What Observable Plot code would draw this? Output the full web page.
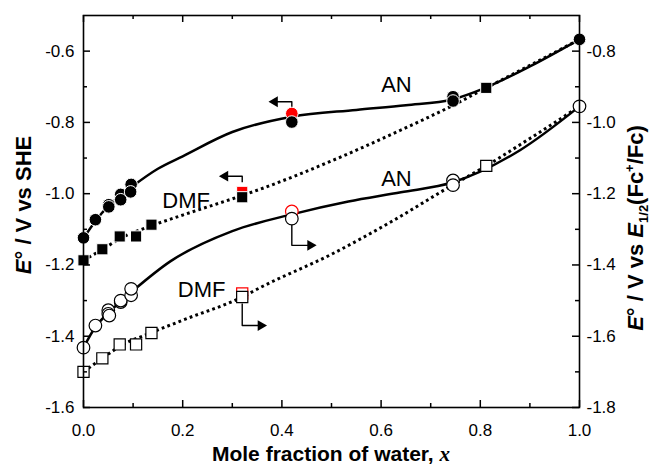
<!DOCTYPE html>
<html><head><meta charset="utf-8">
<script src="https://cdn.jsdelivr.net/npm/d3@7"></script>
<script src="https://cdn.jsdelivr.net/npm/@observablehq/plot@0.6"></script>
<style>body{margin:0;background:#fff}svg{display:block}</style>
</head><body><div id="chart"></div>
<script>
// ---- axis ticks ----
const xMajor = [0, 0.2, 0.4, 0.6, 0.8, 1.0];
const xMinor = [0.1, 0.3, 0.5, 0.7, 0.9];
const leftMajor = [-1.6, -1.4, -1.2, -1.0, -0.8, -0.6];
const leftMinor = [-1.5, -1.3, -1.1, -0.9, -0.7];
const rightMajor = [-1.8, -1.6, -1.4, -1.2, -1.0, -0.8];
const rightMinor = [-1.7, -1.5, -1.3, -1.1, -0.9];

// ---- AN, E° vs SHE (filled circles, left axis) ----
const anSheX = [0, 0.024, 0.051, 0.051, 0.075, 0.075, 0.096, 0.095, 0.42, 0.745, 0.745, 1.0];
const anSheY = [-1.124, -1.073, -1.031, -1.037, -1.002, -1.017, -0.974, -0.995, -0.799, -0.728, -0.740, -0.567];
const anSheRedX = [0.42];
const anSheRedY = [-0.775];
const anSheFitX = [0, 0.025, 0.05, 0.075, 0.1, 0.15, 0.2, 0.3, 0.42, 0.55, 0.65, 0.745, 0.81, 0.9, 1.0];
const anSheFitY = [-1.125, -1.075, -1.035, -1.005, -0.978, -0.93, -0.895, -0.827, -0.784, -0.765, -0.752, -0.735, -0.703, -0.643, -0.567];

// ---- DMF, E° vs SHE (filled squares, left axis) ----
const dmfSheX = [0, 0.038, 0.073, 0.106, 0.137, 0.32, 0.812];
const dmfSheY = [-1.187, -1.156, -1.12, -1.12, -1.087, -1.01, -0.703];
const dmfSheRedX = [0.32];
const dmfSheRedY = [-0.995];
const dmfSheFitX = [0, 0.04, 0.075, 0.137, 0.2, 0.32, 0.357, 0.5, 0.639, 0.745, 0.812, 0.9, 1.0];
const dmfSheFitY = [-1.187, -1.155, -1.125, -1.09, -1.06, -1.005, -0.987, -0.908, -0.822, -0.752, -0.703, -0.64, -0.567];

// ---- AN, E° vs E1/2(Fc+/Fc) (open circles, right axis) ----
const anFcX = [0, 0.024, 0.05, 0.05, 0.052, 0.075, 0.075, 0.096, 0.096, 0.42, 0.745, 0.745, 1.0];
const anFcY = [-1.632, -1.570, -1.527, -1.537, -1.542, -1.504, -1.500, -1.485, -1.467, -1.270, -1.163, -1.176, -0.955];
const anFcRedX = [0.42];
const anFcRedY = [-1.25];
const anFcFitX = [0, 0.025, 0.05, 0.075, 0.1, 0.175, 0.3, 0.42, 0.534, 0.64, 0.745, 0.88, 1.0];
const anFcFitY = [-1.632, -1.572, -1.535, -1.502, -1.472, -1.39, -1.305, -1.258, -1.222, -1.196, -1.168, -1.078, -0.955];

// ---- DMF, E° vs E1/2(Fc+/Fc) (open squares, right axis) ----
const dmfFcX = [0, 0.038, 0.073, 0.106, 0.137, 0.32, 0.812];
const dmfFcY = [-1.70, -1.662, -1.623, -1.623, -1.591, -1.49, -1.122];
const dmfFcRedX = [0.32];
const dmfFcRedY = [-1.48];
const dmfFcFitX = [0, 0.04, 0.075, 0.137, 0.2, 0.32, 0.357, 0.5, 0.625, 0.745, 0.812, 0.9, 1.0];
const dmfFcFitY = [-1.70, -1.66, -1.627, -1.59, -1.555, -1.49, -1.463, -1.37, -1.275, -1.175, -1.122, -1.045, -0.955];

// ---- series labels ----
const labelText = ["AN", "AN", "DMF", "DMF"];
const labelX = [0.631, 0.631, 0.159, 0.19];
const labelY = [-0.695, -0.958, -1.02, -1.271];
const labelAnchor = ["middle", "middle", "start", "start"];

// ---- axis-pointer arrows (elbow paths, data units) ----
// filled markers -> left axis; open markers -> right axis
const arrowSheCircleX = [0.42, 0.42, 0.39];  const arrowSheCircleY = [-0.762, -0.742, -0.742];
const arrowSheSquareX = [0.32, 0.32, 0.29];  const arrowSheSquareY = [-0.968, -0.951, -0.951];
const arrowFcCircleX = [0.42, 0.42, 0.453];  const arrowFcCircleY = [-1.286, -1.345, -1.345];
const arrowFcSquareX = [0.32, 0.32, 0.353];  const arrowFcSquareY = [-1.508, -1.570, -1.570];
const headSheX = [0.3855, 0.2855]; const headSheY = [-0.742, -0.951];
const headFcX = [0.4575, 0.3575];  const headFcY = [-1.345, -1.570];

// ---- build ----
const off = leftMajor[0] - rightMajor[0]; // right axis = left axis - 0.2
const toLeft = v => v + off;
const pts = (xs, ys, f = v => v) => xs.map((x, i) => ({x, y: f(ys[i])}));
const W = 651, Ht = 471, mL = 83, mR = 72, mT = 15, mB = 64;
const pw = W - mL - mR, ph = Ht - mT - mB;
const fmt = d => d.toFixed(1);
const solid = {x: "x", y: "y", curve: "monotone-x", stroke: "black", strokeWidth: 2.5};
const dotted = {x: "x", y: "y", curve: "monotone-x", stroke: "black", strokeWidth: 3, strokeLinecap: "butt", strokeDasharray: "2.8,3.2"};
const elbow = {x: "x", y: "y", stroke: "black", strokeWidth: 1.4, strokeLinecap: "butt"};
const R = 6.3;

const chart = Plot.plot({
  width: W, height: Ht,
  marginLeft: mL, marginRight: mR, marginTop: mT, marginBottom: mB,
  x: {domain: [0, 1], label: null},
  y: {domain: [-1.6, -0.5], label: null},
  style: {fontFamily: "'Liberation Sans', Arial, sans-serif", fontSize: "17px", background: "white", color: "black"},
  marks: [
    Plot.line(pts(anSheFitX, anSheFitY), solid),
    Plot.line(pts(anFcFitX, anFcFitY, toLeft), solid),
    Plot.line(pts(dmfSheFitX, dmfSheFitY), dotted),
    Plot.line(pts(dmfFcFitX, dmfFcFitY, toLeft), dotted),
    // arrows
    Plot.line(pts(arrowSheCircleX, arrowSheCircleY), elbow),
    Plot.line(pts(arrowSheSquareX, arrowSheSquareY), elbow),
    Plot.line(pts(arrowFcCircleX, arrowFcCircleY, toLeft), elbow),
    Plot.line(pts(arrowFcSquareX, arrowFcSquareY, toLeft), elbow),
    Plot.dot(pts(headSheX, headSheY), {x: "x", y: "y", symbol: "triangle", r: 4, rotate: -90, fill: "black", stroke: null}),
    Plot.dot(pts(headFcX, headFcY, toLeft), {x: "x", y: "y", symbol: "triangle", r: 4, rotate: 90, fill: "black", stroke: null}),
    // red markers (behind)
    Plot.dot(pts(anSheRedX, anSheRedY), {x: "x", y: "y", r: R, fill: "red", stroke: "white", strokeWidth: 1}),
    Plot.dot(pts(dmfSheRedX, dmfSheRedY), {x: "x", y: "y", symbol: "square", r: R, fill: "red", stroke: "white", strokeWidth: 1}),
    Plot.dot(pts(anFcRedX, anFcRedY, toLeft), {x: "x", y: "y", r: R, fill: "white", stroke: "red", strokeWidth: 1.2}),
    Plot.dot(pts(dmfFcRedX, dmfFcRedY, toLeft), {x: "x", y: "y", symbol: "square", r: R, fill: "white", stroke: "red", strokeWidth: 1.2}),
    // black markers
    Plot.dot(pts(dmfFcX, dmfFcY, toLeft), {x: "x", y: "y", symbol: "square", r: R, fill: "white", stroke: "black", strokeWidth: 1.2}),
    Plot.dot(pts(anFcX, anFcY, toLeft), {x: "x", y: "y", r: R, fill: "white", stroke: "black", strokeWidth: 1.2}),
    Plot.dot(pts(dmfSheX, dmfSheY), {x: "x", y: "y", symbol: "square", r: R, fill: "black", stroke: "white", strokeWidth: 1}),
    Plot.dot(pts(anSheX, anSheY), {x: "x", y: "y", r: R, fill: "black", stroke: "white", strokeWidth: 1}),
    // labels
    Plot.text(labelText.map((t, i) => ({t, x: labelX[i], y: labelY[i], a: labelAnchor[i]})).filter(d => d.a === "middle"),
      {x: "x", y: "y", text: "t", textAnchor: "middle", lineAnchor: "middle", fontSize: 22, fill: "black"}),
    Plot.text(labelText.map((t, i) => ({t, x: labelX[i], y: labelY[i], a: labelAnchor[i]})).filter(d => d.a === "start"),
      {x: "x", y: "y", text: "t", textAnchor: "start", lineAnchor: "middle", fontSize: 22, fill: "black"}),
    // inward ticks
    Plot.tickY(leftMajor, {y: d => d, insetRight: pw - 7, strokeWidth: 1.5}),
    Plot.tickY(leftMinor, {y: d => d, insetRight: pw - 4, strokeWidth: 1.5}),
    Plot.tickY(rightMajor, {y: d => toLeft(d), insetLeft: pw - 7, strokeWidth: 1.5}),
    Plot.tickY(rightMinor, {y: d => toLeft(d), insetLeft: pw - 4, strokeWidth: 1.5}),
    Plot.tickX(xMajor, {x: d => d, insetTop: ph - 7, strokeWidth: 1.5}),
    Plot.tickX(xMinor, {x: d => d, insetTop: ph - 4, strokeWidth: 1.5}),
    Plot.tickX(xMajor, {x: d => d, insetBottom: ph - 7, strokeWidth: 1.5}),
    Plot.tickX(xMinor, {x: d => d, insetBottom: ph - 4, strokeWidth: 1.5}),
    Plot.frame({stroke: "black", strokeWidth: 1.6}),
    // tick labels
    Plot.axisX({ticks: xMajor, tickSize: 0, tickPadding: 16, tickFormat: fmt, label: null}),
    Plot.axisY({anchor: "left", ticks: leftMajor, tickSize: 0, tickPadding: 9, tickFormat: fmt, label: null}),
    Plot.axisY({anchor: "right", ticks: rightMajor.map(toLeft), tickSize: 0, tickPadding: 7, tickFormat: d => fmt(d - off), label: null})
  ]
});
document.getElementById("chart").append(chart);

// ---- axis titles (rich text) ----
const svg = d3.select(chart);
const tf = "'Liberation Sans', Arial, sans-serif";
const lt = svg.append("text").attr("transform", `translate(31,205) rotate(-90)`)
  .attr("text-anchor", "middle").attr("font-family", tf).attr("font-weight", "bold").attr("font-size", 22).attr("fill", "black");
lt.append("tspan").attr("font-style", "italic").text("E");
lt.append("tspan").text("° / V vs SHE");

const rt = svg.append("text").attr("transform", `translate(643,228) rotate(-90)`)
  .attr("text-anchor", "middle").attr("font-family", tf).attr("font-weight", "bold").attr("font-size", 22).attr("fill", "black");
rt.append("tspan").attr("font-style", "italic").text("E");
rt.append("tspan").text("° / V vs ");
rt.append("tspan").attr("font-style", "italic").text("E");
rt.append("tspan").attr("font-size", 13).attr("dy", 5).text("1/2");
rt.append("tspan").attr("dy", -5).text("(Fc");
rt.append("tspan").attr("font-size", 13).attr("dy", -9).text("+");
rt.append("tspan").attr("dy", 9).text("/Fc)");

const xt = svg.append("text").attr("x", 331).attr("y", 461)
  .attr("text-anchor", "middle").attr("font-family", tf).attr("font-weight", "bold").attr("font-size", 21).attr("fill", "black");
xt.append("tspan").text("Mole fraction of water, ");
xt.append("tspan").attr("font-family", "'Liberation Serif', 'Times New Roman', serif").attr("font-style", "italic").text("x");
</script>
</body></html>
